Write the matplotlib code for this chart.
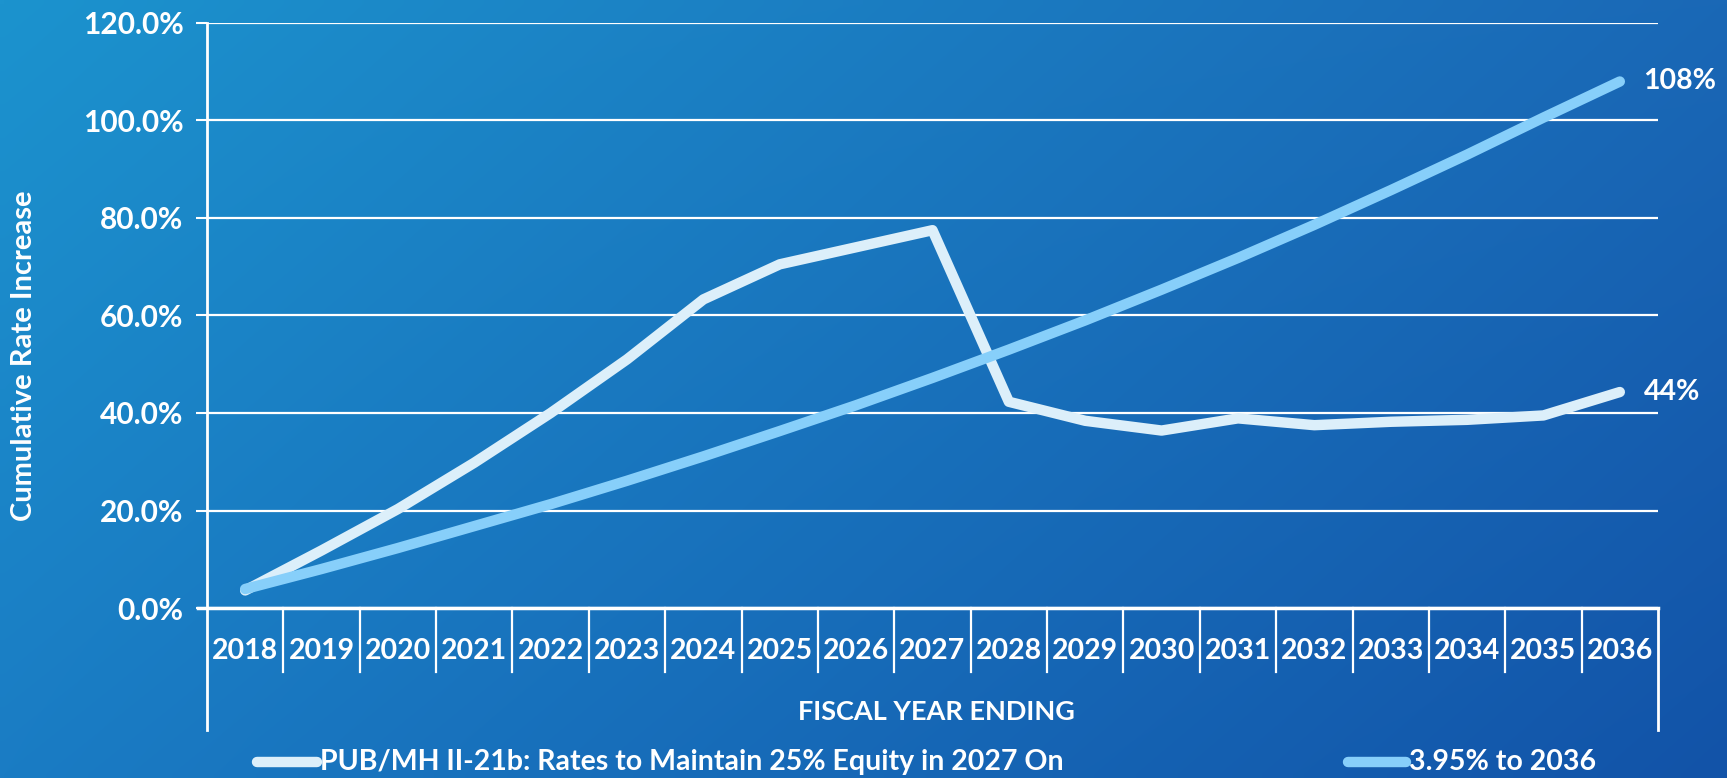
import numpy as np
import matplotlib
matplotlib.use("Agg")
import matplotlib.pyplot as plt
from matplotlib.lines import Line2D

plt.rcParams['font.family'] = ['Lato', 'DejaVu Sans']
plt.rcParams['font.weight'] = 'bold'

years = [str(y) for y in range(2018, 2037)]
pub_mh = [3.6, 11.8, 20.3, 29.8, 40.0, 51.0, 63.3, 70.5, 74.0, 77.5,
          42.3, 38.4, 36.4, 38.9, 37.5, 38.2, 38.6, 39.5, 44.3]
flat_395 = [3.9, 8.0, 12.3, 16.8, 21.3, 26.1, 31.1, 36.3, 41.6, 47.2,
            53.0, 59.0, 65.3, 71.8, 78.6, 85.7, 93.0, 100.6, 108.0]
series_names = ["PUB/MH II-21b: Rates to Maintain 25% Equity in 2027 On", "3.95% to 2036"]
end_labels = ["44%", "108%"]
y_ticks = [0, 20, 40, 60, 80, 100, 120]

W, H = 1727, 778
fig = plt.figure(figsize=(W / 100, H / 100), dpi=100)

# gradient background
bg = fig.add_axes([0, 0, 1, 1], zorder=-10)
tl = np.array([0x1C, 0x93, 0xCE]) / 255
tr = np.array([0x1A, 0x68, 0xB6]) / 255
bl = np.array([0x1A, 0x7C, 0xC4]) / 255
br = np.array([0x12, 0x53, 0xA8]) / 255
u = np.linspace(0, 1, 200)[None, :, None]
v = np.linspace(0, 1, 100)[:, None, None]
img = (1 - v) * ((1 - u) * tl + u * tr) + v * ((1 - u) * bl + u * br)
bg.imshow(img, aspect='auto', extent=[0, 1, 0, 1], interpolation='bilinear')
bg.set_axis_off()

left_px, right_px, top_px, zero_px = 207, 1658, 23, 608
ax = fig.add_axes([left_px / W, 1 - zero_px / H, (right_px - left_px) / W, (zero_px - top_px) / H])
ax.set_facecolor('none')

x = np.arange(len(years))
c1 = '#DCEFFA'
c2 = '#87CFFA'
ax.plot(x, pub_mh, color=c1, lw=7.5, solid_capstyle='round', solid_joinstyle='round', zorder=3, clip_on=False)
ax.plot(x, flat_395, color=c2, lw=7.5, solid_capstyle='round', solid_joinstyle='round', zorder=4, clip_on=False)

ax.set_xlim(-0.5, len(years) - 0.5)
ax.set_ylim(0, 120)
ax.set_yticks(y_ticks)
ax.set_yticklabels([f"{t:.1f}%" for t in y_ticks], color='white', fontsize=21.5, fontweight='bold')
ax.tick_params(axis='y', direction='out', length=8, width=1.5, color='white', pad=9)
ax.yaxis.grid(True, color='white', lw=1.6)
ax.set_axisbelow(True)

for s in ['top', 'right', 'bottom']:
    ax.spines[s].set_visible(False)
ax.spines['left'].set_color('white')
ax.spines['left'].set_linewidth(2)
ax.spines['left'].set_bounds(0, 120)

ax.set_xticks([])
trans = ax.get_xaxis_transform()
# x axis line
ax.plot([-0.5 - 0.12, len(years) - 0.5], [0, 0], color='white', lw=2.5, transform=trans, clip_on=False, zorder=2)
# extended left & right boundary lines
ax.plot([-0.5, -0.5], [0, -0.209], color='white', lw=2, transform=trans, clip_on=False)
ax.plot([len(years) - 0.5, len(years) - 0.5], [0, -0.209], color='white', lw=2, transform=trans, clip_on=False)
# category separators
for i in range(1, len(years)):
    ax.plot([i - 0.5, i - 0.5], [0, -0.109], color='white', lw=1.6, transform=trans, clip_on=False)
for i, yr in enumerate(years):
    ax.text(i, -0.073, yr, transform=trans, ha='center', va='center', color='white',
            fontsize=20.5, fontweight='bold')

ax.text(len(years) / 2 - 0.5 + 0.05, -0.177, "FISCAL YEAR ENDING", transform=trans, ha='center', va='center',
        color='white', fontsize=19.5, fontweight='bold')
fig.text(24 / W, 1 - 356 / H, "Cumulative Rate Increase", rotation=90, ha='center', va='center',
         color='white', fontsize=21, fontweight='bold')

# end labels
ax.annotate(end_labels[0], (x[-1], pub_mh[-1]), xytext=(17, 0), textcoords='offset points',
            ha='left', va='center', color='white', fontsize=20.5, fontweight='bold', annotation_clip=False)
ax.annotate(end_labels[1], (x[-1], flat_395[-1]), xytext=(17, 0), textcoords='offset points',
            ha='left', va='center', color='white', fontsize=20.5, fontweight='bold', annotation_clip=False)

# legend (manual)
ly = 1 - 762 / H
fig.add_artist(Line2D([257 / W, 317 / W], [ly, ly], color=c1, lw=7.5, solid_capstyle='round'))
fig.text(320 / W, ly, series_names[0], ha='left', va='center', color='white', fontsize=20.5, fontweight='bold')
fig.add_artist(Line2D([1348 / W, 1406 / W], [ly, ly], color=c2, lw=7.5, solid_capstyle='round'))
fig.text(1409 / W, ly, series_names[1], ha='left', va='center', color='white', fontsize=20.5, fontweight='bold')

fig.savefig('out.png', dpi=100)
